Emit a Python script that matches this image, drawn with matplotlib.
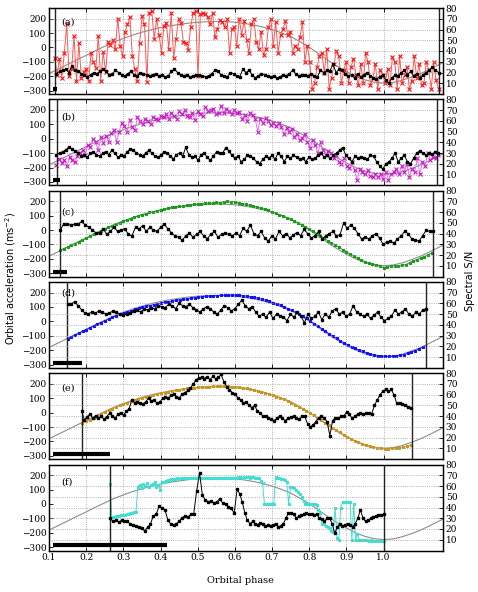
import numpy as np
import matplotlib
matplotlib.use('Agg')
import matplotlib.pyplot as plt

plt.rcParams['font.family'] = ['DejaVu Serif']
plt.rcParams['axes.unicode_minus'] = True

# ---------------- model (grey) curve ----------------
model_phase = [0.100, 0.125, 0.150, 0.175, 0.200, 0.225, 0.250, 0.275, 0.300, 0.325,
               0.350, 0.375, 0.400, 0.425, 0.450, 0.475, 0.500, 0.525, 0.550, 0.575,
               0.600, 0.625, 0.650, 0.675, 0.700, 0.725, 0.750, 0.775, 0.800, 0.825,
               0.850, 0.875, 0.900, 0.925, 0.950, 0.975, 1.000, 1.025, 1.050, 1.075,
               1.100, 1.125, 1.160]
model_acc = [-181, -150, -118, -86, -55, -22, 8, 38, 63, 86,
             106, 123, 138, 150, 160, 169, 175, 179, 180, 179,
             175, 167, 156, 142, 124, 102, 76, 40, 2, -42,
             -88, -130, -167, -200, -225, -241, -247, -243, -228, -206,
             -181, -150, -105]

panel_labels = ['(a)', '(b)', '(c)', '(d)', '(e)', '(f)']
label_y = [0.84, 0.79, 0.755, 0.865, 0.83, 0.80]
seg_len = [0.0096, 0.0191, 0.0383, 0.0766, 0.153, 0.306]
bar_start = 0.111
obs_end = 1.153
bar_level = -288

xticks = [0.1, 0.2, 0.3, 0.4, 0.5, 0.6, 0.7, 0.8, 0.9, 1.0]
acc_ticks = [-300, -200, -100, 0, 100, 200]
snr_ticks = [10, 20, 30, 40, 50, 60, 70, 80]

# ---------------- panel (a) ----------------
acc_a = [-70, -190, -80, -210, -40, 160, -200, -150, 80, -230,
         30, -210, -170, -150, -230, -40, -100, -140, 80, -230,
         -30, -170, 40, 20, 50, -10, 200, 10, -60, 110,
         160, 210, -60, -150, -230, 30, 220, 160, -240, 240,
         250, 60, 200, 90, -40, 150, 170, -10, 240, -70,
         60, 200, 170, 40, 30, -20, 140, 240, 250, -200,
         230, 240, 230, 210, 160, 240, 70, 130, 190, 180,
         140, 200, -40, 125, 140, 13, 199, 87, 184, 50,
         -40, 162, 199, 35, -10, 110, -54, -10, 140, 199,
         13, 177, -40, 87, 125, 184, 87, 110, -40, 13,
         -10, 72, 177, -99, 13, -99, -286, -248, -136, -62,
         -40, -174, -10, -286, -211, -114, -25, -62, -248, -159,
         -99, -248, -136, -77, -189, -263, -114, -248, -40, -99,
         -263, -211, -114, -286, -159, -189, -248, -151, -263, -69,
         -99, -286, -62, -248, -189, -136, -286, -233, -62, -211,
         -114, -263, -248, -99, -159, -286, -104, -226, -286]
snr_a = [19, 21, 22, 23, 20, 26, 22, 21, 19, 18,
         16, 18, 20, 19, 21, 23, 21, 18, 19, 22,
         20, 18, 17, 19, 21, 18, 17, 20, 19, 18,
         17, 18, 19, 17, 18, 16, 17, 21, 23, 20,
         18, 17, 18, 16, 17, 18, 18, 17, 16, 17,
         19, 22, 21, 18, 17, 16, 20, 19, 17, 16,
         23, 20, 22, 18, 15, 17, 19, 18, 17, 16,
         17, 15, 16, 18, 17, 19, 22, 19, 17, 18,
         18, 17, 19, 17, 16, 22, 20, 22, 21, 28,
         20, 23, 22, 19, 17, 18, 15, 19, 16, 18,
         20, 17, 15, 14, 16, 18, 13, 10, 15, 18,
         17, 20, 22, 18, 21, 17, 19, 15, 18, 20, 22, 25, 22, 20]

# ---------------- panel (b) ----------------
acc_b = [-185, -140, -170, -150, -190, -130, -150, -160, -120, -100,
         -80, -110, -40, -60, 0, -20, -80, 10, -30, 20,
         -20, 40, 60, -20, 50, 110, 90, 50, 130, 80,
         60, 150, 120, 100, 140, 120, 100, 150, 140, 130,
         160, 150, 170, 140, 180, 160, 140, 190, 170, 200,
         160, 150, 180, 130, 190, 170, 160, 220, 190, 200,
         210, 170, 180, 230, 180, 210, 190, 170, 200, 180,
         184, 140, 162, 125, 177, 162, 140, 50, 140, 110,
         147, 125, 95, 110, 87, 110, 80, 35, 72, 50,
         65, 13, 35, -10, 5, 35, -25, -62, -10, -40,
         -99, -25, -77, -114, -84, -99, -136, -114, -159, -174,
         -136, -189, -204, -159, -219, -286, -211, -233, -248, -219,
         -256, -263, -248, -263, -248, -278, -233, -286, -248, -233,
         -211, -248, -189, -233, -174, -263, -211, -233, -136, -248,
         -159, -189, -99, -144, -129, -136, -114]
snr_b = [28.6, 29.9, 31.2, 33, 35.3, 33.9, 32, 29.9, 27.2, 28.6,
         25.9, 29.9, 31.2, 28.6, 27.2, 29.9, 31.2, 28.6, 32.6, 29.9,
         25.9, 28.6, 27.2, 31.2, 33.9, 32.6, 29.9, 28.6, 27.2, 29.9,
         32.6, 29.9, 27.2, 25.9, 28.6, 31.2, 29.9, 27.2, 24.5, 28.6,
         29.9, 27.2, 35.3, 28.6, 25.9, 27.2, 23.2, 28.6, 29.9, 25.9,
         23.2, 27.2, 31.2, 29.9, 30, 35, 32, 28, 25, 27,
         22, 24, 28, 27, 25, 22, 20, 24, 27, 25,
         28, 24, 30, 27, 22, 27, 25, 28, 26, 24,
         25, 22, 26, 24, 25, 28, 30, 26, 28, 25,
         28, 30, 33, 35, 28, 25, 22, 27, 25, 26,
         25, 24, 28, 27, 22, 18, 15, 20, 22, 25,
         30, 22, 25, 28, 22, 20, 25, 30, 32, 30,
         28, 30, 29, 31, 30]

# ---------------- panel (c) ----------------
acc_c = [-140, -128, -118, -104, -95, -80, -70, -55, -44, -30,
         -20, -4, 8, 18, 30, 42, 52, 60, 72, 80,
         92, 98, 108, 112, 122, 128, 134, 140, 146, 150,
         158, 160, 166, 164, 172, 175, 178, 182, 178, 186,
         188, 185, 192, 190, 196, 200, 194, 198, 186, 184,
         178, 172, 166, 160, 152, 146, 136, 126, 118, 106,
         98, 86, 74, 62, 50, 36, 22, 6, -8, -24,
         -40, -56, -74, -90, -104, -120, -136, -150, -166, -178,
         -196, -206, -220, -230, -238, -244, -250, -262, -256, -252,
         -250, -246, -244, -240, -226, -214, -206, -192, -184, -172, -160]
snr_c = [43.3, 49, 48.5, 48, 48.7, 49, 51.3, 48, 46, 43.3,
         40.6, 40.6, 44.6, 39.3, 42, 46, 42, 43.3, 44.6, 39.3,
         37.9, 46, 44.6, 47.3, 42, 46, 43.3, 42, 46, 48.7,
         44.6, 40.6, 37.9, 36.6, 33.9, 37.9, 40.6, 36.6, 39.3, 42,
         37.9, 35.3, 39.3, 42, 36.6, 39.3, 40.6, 39.3, 37.9, 40.6,
         38, 45, 42, 48, 40, 38, 42, 36, 33, 38,
         35, 42, 38, 40, 36, 39, 41, 38, 44, 40,
         36, 38, 42, 35, 38, 40, 42, 38, 39, 50,
         45, 48, 45, 40, 35, 37, 35, 38, 40, 36,
         30, 32, 33, 31, 35, 38, 42, 40, 35, 34,
         33, 38, 43, 42, 42]

# ---------------- panel (d) ----------------
acc_d = [-121, -108, -96, -83, -70, -57, -45, -32, -20, -8,
         4, 16, 27, 38, 48, 58, 67, 75, 83, 90,
         97, 104, 110, 116, 121, 127, 132, 137, 141, 145,
         149, 153, 157, 161, 165, 168, 171, 173, 175, 177,
         179, 181, 182, 183, 183, 182, 180, 178, 175, 171,
         166, 160, 154, 147, 139, 130, 121, 111, 100, 88,
         76, 63, 49, 35, 20, 2, -15, -32, -50, -68,
         -86, -102, -118, -134, -149, -163, -176, -188, -199, -209,
         -218, -226, -232, -237, -240, -242, -243, -242, -240, -236,
         -230, -222, -213, -203, -192, -180]
snr_d = [59, 59.5, 61.5, 58, 54, 51, 50.5, 52, 51, 53,
         52, 50, 51, 53, 52, 50, 49.5, 50.5, 51, 53,
         54, 52, 55, 54, 56, 55, 58, 57, 56, 59,
         58, 55, 60, 58, 57, 59, 56, 54, 52, 55,
         57, 55, 52, 50, 54, 58, 56, 53, 55, 59,
         63, 58, 55, 57, 52, 48, 50, 47, 52, 46,
         50, 48, 47, 44, 50, 47, 52, 48, 42, 50,
         46, 48, 52, 45, 50, 47, 53, 55, 50, 52,
         48, 50, 58, 52, 50, 48, 50, 46, 49, 52,
         47, 44, 46, 48, 54, 50, 52, 55, 50, 48,
         52, 50, 54, 55]

# ---------------- panel (e) ----------------
acc_e = [-72, -60, -48, -34, -22, -10, 4, 16, 26, 38,
         50, 58, 68, 78, 86, 94, 102, 108, 116, 122,
         128, 134, 140, 146, 150, 156, 160, 163, 168, 170,
         174, 176, 178, 180, 180, 182, 182, 183, 182, 182,
         180, 178, 175, 172, 168, 163, 158, 152, 146, 139,
         130, 122, 112, 102, 92, 80, 68, 54, 40, 26,
         14, 0, -18, -36, -52, -70, -88, -104, -120, -136,
         -152, -166, -180, -194, -205, -215, -225, -233, -240, -244,
         -248, -250, -250, -248, -246, -242, -238, -232, -226]
snr_e = [44.4, 36.6, 39.7, 42, 37.9, 40.6, 38.2, 40, 37, 39.7,
         42.9, 40.6, 38.2, 42, 43.3, 41, 44.6, 47, 55.2, 52,
         53.6, 52.1, 51, 53.6, 56.7, 54, 55.2, 52, 53, 56.7,
         58, 56.7, 59.4, 60.7, 58, 56.7, 60.7, 62, 64, 66,
         70, 74, 75.5, 76.3, 75, 76.8, 74, 77, 75, 76,
         78.8, 72, 67.6, 64.5, 62, 60.7, 57, 55, 52, 53,
         50, 48, 50, 45, 43, 40, 40, 38, 37, 36,
         38, 40, 38, 36, 38, 39, 40, 38, 37, 40,
         40, 33, 30, 32, 35, 38, 40, 38, 35, 22,
         36, 38, 38, 40, 40, 44, 42, 38, 40, 42,
         43, 42, 43, 43, 42, 50, 55, 60, 63, 65,
         63, 65, 60, 52, 52, 51, 50, 49, 48]

# ---------------- panel (f) ----------------
acc_f = [140, -90, -88, -86, -84, -82, -80, -77, -74, -72,
         -69, -66, -62, -58, -54,
         120, 132, 110, 140, 125, 145, 115, 135, 140, 150, 120, 135, 100,
         150, 155, 160, 165, 168, 170, 172,
         175, 178, 176, 180, 178, 181, 179, 180, 182, 180,
         178, 180, 181, 179, 180, 178, 180, 182, 179, 180,
         178, 181, 180, 179, 182, 180, 178, 180, 181, 179,
         180, 182, 180, 181,
         184, 184, 183, 184, 185, 184, 183, 184, 184, 183, 180,
         177, 162, 145, 0, -2, 0, -2, 0, -2,
         184, 180, 177, 175, 170, 165, 150, 0, 120, 115,
         110, 95, 85, 70, 50, 20,
         0, -2, 0, -2, 0, -2, -10,
         -40, -62, -136, -140, -150, -159, -170, -189, -196, -25,
         -233, -248, -25, 13, 13, 13, 13, 13, -248, -2,
         -248, -211, -248, -250, -252, -250, -252, -254, -252, -254,
         -255, -254, -256, -255, -256, -256]
snr_f_early = [30.2, 27.1, 28.0, 26.4, 28.0, 27.7, 27.2, 24.8, 23.3, 22.5,
               21.5, 20.5, 18.4, 21.5, 24.5, 32.2, 33.6, 41.2, 39.7, 38.1,
               28.8, 24.5, 24.0, 24.9, 27.5, 30.6, 32.2, 31.2, 33.6, 34.3,
               55.2, 72.5, 51.3, 47.3, 45.2, 46.1, 44.2, 45.2, 48.3, 44.2,
               43.3, 40.9, 39.3, 34.7, 56.8]
snr_f_late = [53, 45, 35, 28, 25, 27, 25, 24, 26, 25,
              23, 24, 23, 24, 25, 22, 23, 25, 30, 35,
              35, 34, 30, 32, 33, 34, 35, 34, 34, 33,
              34, 30, 29, 27, 30, 30, 25, 16, 22, 25,
              23, 24, 25, 24, 22, 25, 30, 38, 30, 27,
              28, 30, 31, 32, 33, 33, 34]

# ---------------- per-panel phase ranges and styles ----------------
acc_data = [acc_a, acc_b, acc_c, acc_d, acc_e, acc_f]
acc_range = [(0.115, 1.148), (0.12, 1.147), (0.13, 1.13), (0.15, 1.105), (0.19, 1.073), (0.264, 1.0)]
snr_data = [snr_a, snr_b, snr_c, snr_d, snr_e, None]
snr_range = [(0.12, 1.148), (0.12, 1.147), (0.13, 1.134), (0.15, 1.115), (0.188, 1.073), None]
snr_f_ranges = [(0.264, 0.606), (0.613, 1.0)]

mk_color = ['#ff1010', '#cc10cc', '#1a9a1a', '#1010ff', '#c8961e', '#40e0d0']
ln_color = ['#ff5555', '#e070e0', '#2aa02a', '#3030ff', '#d0a030', '#40e0d0']
mk_style = ['x', 'x', 's', 's', 's', 's']
mk_size = [2.2, 2.2, 1.5, 1.5, 1.7, 1.6]

W, H = 478, 592
fig = plt.figure(figsize=(W / 100, H / 100), dpi=100)
left_px, right_px = 49, 443
tops = [8, 99.3, 190.6, 281.9, 373.2, 464.5]
ph = 86

for i in range(6):
    top = tops[i]
    ax = fig.add_axes([left_px / W, 1 - (top + ph) / H, (right_px - left_px) / W, ph / H])
    ax2 = ax.twinx()
    ax.set_xlim(0.1, 1.16)
    ax.set_ylim(-323, 274)
    ax2.set_ylim(0, 80)

    ax.plot(model_phase, model_acc, color='#8c8c8c', lw=0.8, zorder=1)

    a = acc_data[i]
    xa = np.linspace(acc_range[i][0], acc_range[i][1], len(a))
    ax.plot(xa, a, color=ln_color[i], lw=0.7, zorder=2)
    ax.plot(xa, a, ls='none', marker=mk_style[i], ms=mk_size[i], mew=0.8,
            mec=mk_color[i], mfc=mk_color[i], zorder=3)

    if snr_data[i] is not None:
        s = snr_data[i]
        xs = np.linspace(snr_range[i][0], snr_range[i][1], len(s))
    else:
        s = snr_f_early + snr_f_late
        xs = np.concatenate([np.linspace(snr_f_ranges[0][0], snr_f_ranges[0][1], len(snr_f_early)),
                             np.linspace(snr_f_ranges[1][0], snr_f_ranges[1][1], len(snr_f_late))])
    ax2.plot(xs, s, color='black', lw=0.7, marker='s', ms=1.6, mec='black', mfc='black', zorder=4)

    L = seg_len[i]
    ax.axvline(bar_start + L / 2, color='#222222', lw=1.0, zorder=5)
    ax.axvline(obs_end - L / 2, color='#222222', lw=1.0, zorder=5)
    ax.plot([bar_start, bar_start + L], [bar_level, bar_level], color='black', lw=3.0,
            solid_capstyle='butt', zorder=6)

    ax.text(0.03, label_y[i], panel_labels[i], transform=ax.transAxes, fontsize=7,
            va='center', ha='left')

    ax.set_xticks(xticks)
    ax.set_yticks(acc_ticks)
    ax2.set_yticks(snr_ticks)
    ax.grid(True, axis='x', color='#999999', ls=':', lw=0.6)
    ax2.grid(True, axis='y', color='#999999', ls=':', lw=0.6)
    ax.tick_params(axis='both', direction='in', length=3, width=0.6, labelsize=6.5, pad=2,
                   top=True)
    ax2.tick_params(axis='y', direction='in', length=3, width=0.6, labelsize=6.5, pad=2)
    if i < 5:
        ax.set_xticklabels([])
    else:
        ax.set_xticklabels(['%.1f' % t for t in xticks])
    for sp in list(ax.spines.values()) + list(ax2.spines.values()):
        sp.set_linewidth(0.9)

fig.text(0.023, 0.53, 'Orbital acceleration (ms$^{-2}$)', rotation=90, va='center', ha='center',
         fontsize=7, family='DejaVu Sans')
fig.text(0.983, 0.525, 'Spectral S/N', rotation=90, va='center', ha='center',
         fontsize=7, family='DejaVu Sans')
fig.text(0.502, 0.019, 'Orbital phase', va='center', ha='center', fontsize=7)

fig.savefig('out.png', dpi=100)
